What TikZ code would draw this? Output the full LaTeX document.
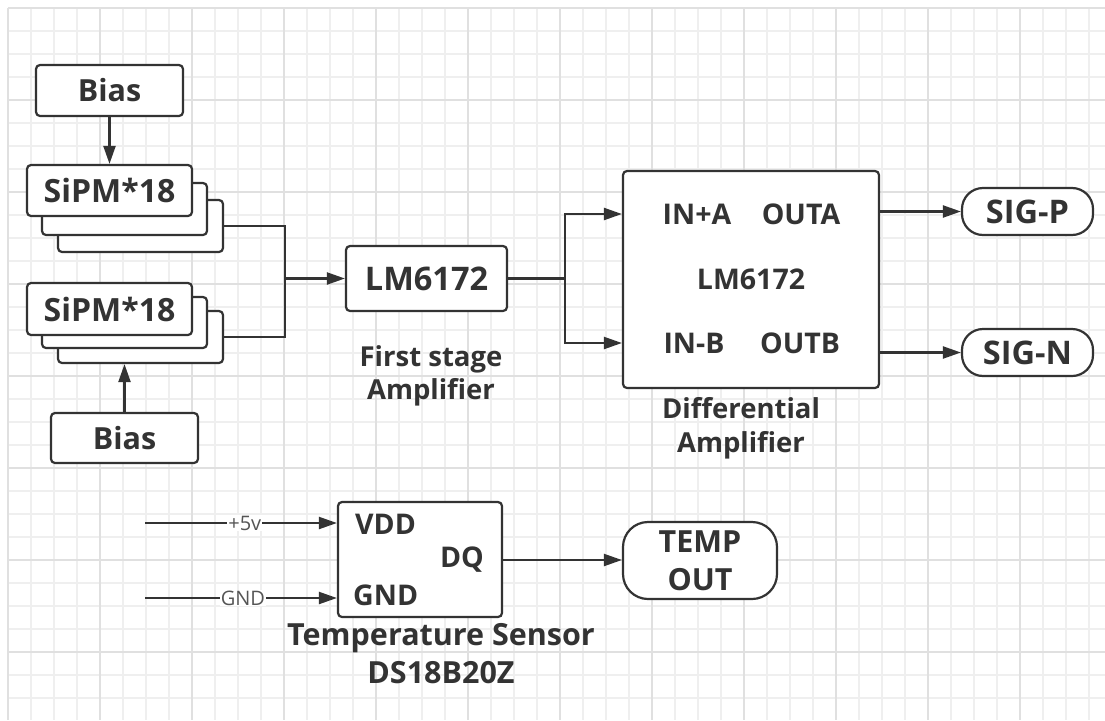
\documentclass[tikz,border=0pt]{standalone}
\usepackage{fontspec}
\setmainfont{Open Sans}
\usetikzlibrary{arrows.meta}
\definecolor{ink}{HTML}{333333}
\definecolor{gminor}{HTML}{EFEFEF}
\definecolor{gmajor}{HTML}{E0E0E0}
\definecolor{lbl}{HTML}{555555}
\begin{document}
\begin{tikzpicture}[x=1pt,y=-1pt,
  box/.style={draw=ink, line width=2.2pt, rounded corners=4pt, fill=white, inner sep=0pt, text=ink, font=\bfseries\fontsize{30.5}{34}\selectfont},
  stadium/.style={box, rounded corners=21pt},
  ln/.style={draw=ink, line width=2.2pt},
  arr/.style={ln, -{Triangle[length=18pt,width=12pt]}},
  txt/.style={text=ink, inner sep=0pt, align=center, font=\bfseries\fontsize{27.5}{34}\selectfont},
  pin/.style={text=ink, inner sep=0pt, font=\bfseries\fontsize{28.5}{30}\selectfont},
  wire/.style={fill=white, text=lbl, inner sep=1pt, font=\fontsize{20}{22}\selectfont}]
\useasboundingbox (0,0) rectangle (1105,720);
\fill[white] (0,0) rectangle (1105,720);
% grid
\foreach \i in {0,...,47} \draw[gminor, line width=1.3pt] ({8+23*\i},8) -- ({8+23*\i},720);
\foreach \j in {0,...,30} \draw[gminor, line width=1.3pt] (8,{8+23*\j}) -- (1105,{8+23*\j});
\foreach \i in {0,...,11} \draw[gmajor, line width=1.3pt] ({8+92*\i},8) -- ({8+92*\i},720);
\foreach \j in {0,...,7} \draw[gmajor, line width=1.3pt] (8,{8+92*\j}) -- (1105,{8+92*\j});

% Bias and SiPM stacks
\node[box, minimum width=147pt, minimum height=51pt] (bias1) at (109.5,90.5) {Bias};
\node[box, minimum width=165pt, minimum height=52pt] (s1c) at (140.5,226) {};
\node[box, minimum width=165pt, minimum height=52pt] (s1b) at (124.5,209) {};
\node[box, minimum width=165pt, minimum height=51pt, font=\bfseries\fontsize{32}{34}\selectfont] (s1a) at (109.5,190.5) {SiPM*18};
\node[box, minimum width=165pt, minimum height=52pt] (s2c) at (140.5,337) {};
\node[box, minimum width=165pt, minimum height=51pt] (s2b) at (124.5,322.5) {};
\node[box, minimum width=165pt, minimum height=52pt, font=\bfseries\fontsize{32}{34}\selectfont] (s2a) at (109.5,309) {SiPM*18};
\node[box, minimum width=147pt, minimum height=50pt] (bias2) at (124.5,438) {Bias};

\draw[arr] (bias1) -- (s1a);
\draw[arr] (bias2.north) -- (bias2.north |- s2c.south);

% first stage
\node[box, minimum width=161pt, minimum height=65pt, font=\bfseries\fontsize{32.5}{34}\selectfont] (lm1) at (426.5,278.5) {LM6172};
\node[txt, font=\bfseries\fontsize{27.5}{33}\selectfont] (fst) at (431,375.5) {First stage\\Amplifier};
\coordinate (j) at (285,278.5);
\draw[ln] (s1c.east) -| (j);
\draw[ln] (s2c.east) -| (j);
\draw[arr] (j) -- (lm1.west);

% differential amplifier
\node[box, minimum width=256pt, minimum height=217pt] (diff) at (751,279.5) {};
\node[pin] (ina) at (697,214) {IN+A};
\node[pin] (outa) at (801,214) {OUTA};
\node[pin] (lmd) at (751,279) {LM6172};
\node[pin] (inb) at (694,343) {IN-B};
\node[pin] (outb) at (800,343) {OUTB};
\node[txt] (dtxt) at (741,428) {Differential\\Amplifier};
\coordinate (sp) at (565,278.5);
\draw[ln] (lm1.east) -- (sp);
\draw[arr] (sp) |- (ina -| diff.west);
\draw[arr] (sp) |- (inb -| diff.west);

\node[stadium, minimum width=131pt, minimum height=47pt, font=\bfseries\fontsize{32.5}{34}\selectfont] (sigp) at (1027.5,211.5) {SIG-P};
\node[stadium, minimum width=131pt, minimum height=47pt, font=\bfseries\fontsize{32.5}{34}\selectfont] (sign) at (1027.5,352.5) {SIG-N};
\draw[arr] (diff.east |- sigp.west) -- (sigp.west);
\draw[arr] (diff.east |- sign.west) -- (sign.west);

% temperature sensor
\node[box, minimum width=164pt, minimum height=115pt] (sens) at (420,559.5) {};
\node[pin, anchor=west] (vdd) at (355,524) {VDD};
\node[pin] (dq) at (462,560) {DQ};
\node[pin, anchor=west] (gnd) at (353,595) {GND};
\node[txt, font=\bfseries\fontsize{30.5}{38}\selectfont] (ttxt) at (441,654) {Temperature Sensor\\DS18B20Z};
\coordinate (v5) at (145,523);
\coordinate (g0) at (145,598);
\draw[arr] (v5) -- node[wire, pos=0.52] {+5v} (sens.west |- v5);
\draw[arr] (g0) -- node[wire, pos=0.51] {GND} (sens.west |- g0);

\node[box, rounded corners=25pt, minimum width=154pt, minimum height=77pt, align=center, font=\bfseries\fontsize{30.5}{38}\selectfont] (tout) at (700,560.5) {TEMP\\OUT};
\draw[arr] (sens.east |- dq) -- (tout.west |- dq);
\end{tikzpicture}
\end{document}
